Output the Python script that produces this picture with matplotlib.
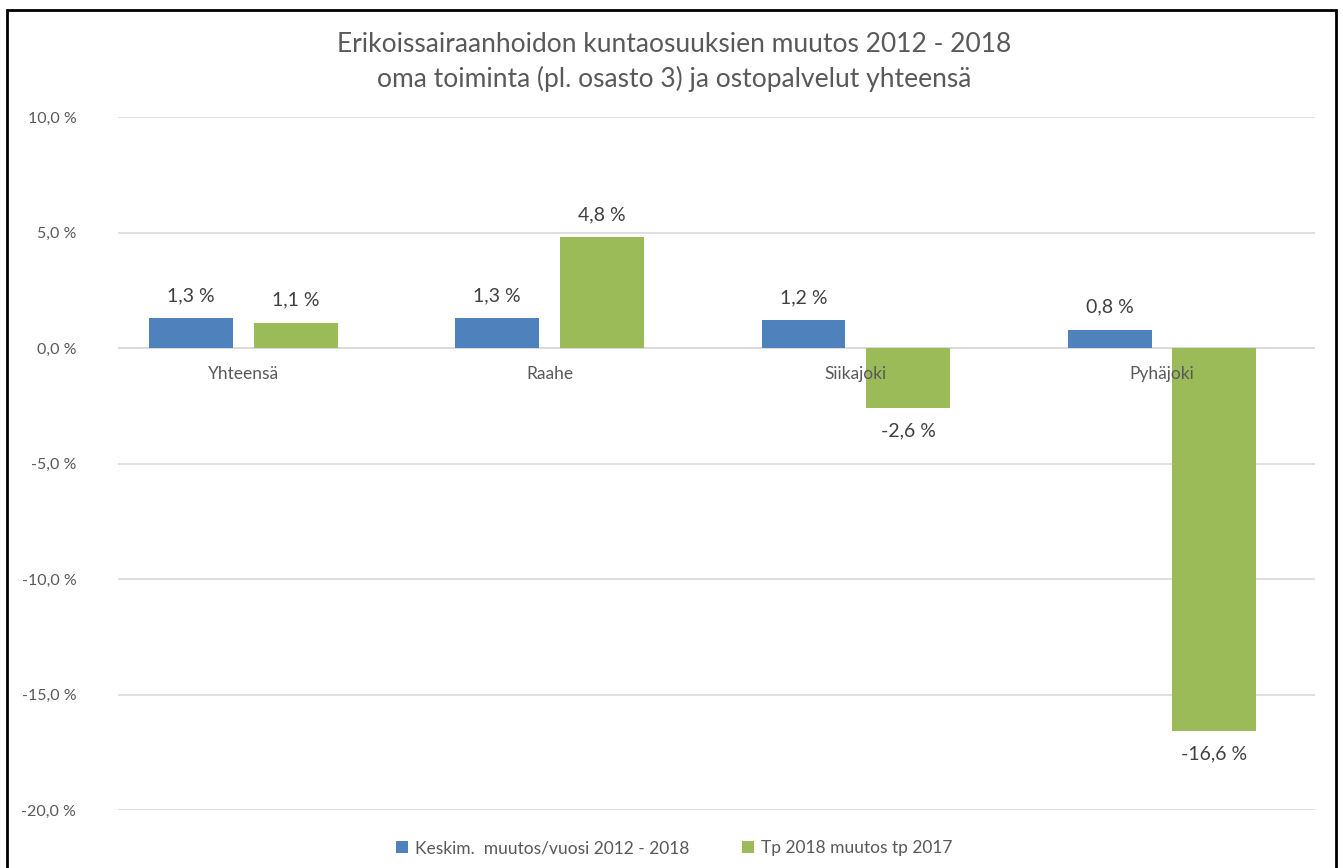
import matplotlib.pyplot as plt
import numpy as np
from matplotlib.patches import Rectangle

plt.rcParams['font.family'] = ['Lato', 'DejaVu Sans']

categories = ["Yhteensä", "Raahe", "Siikajoki", "Pyhäjoki"]
avg_change = [1.3, 1.3, 1.2, 0.8]
change_2018 = [1.1, 4.8, -2.6, -16.6]
series_names = ["Keskim.  muutos/vuosi 2012 - 2018", "Tp 2018 muutos tp 2017"]
yticks = [10, 5, 0, -5, -10, -15, -20]

def pct(v):
    return ("%.1f %%" % v).replace(".", ",")

fig = plt.figure(figsize=(13.43, 8.68), dpi=100)
ax = fig.add_axes([118 / 1343, 1 - 810 / 868, (1315 - 118) / 1343, (810 - 117) / 868])

x = np.arange(len(categories))
w = 0.274
off = 0.171
b1 = ax.bar(x - off, avg_change, w, color="#4f81bd", label=series_names[0], zorder=2)
b2 = ax.bar(x + off, change_2018, w, color="#9bbb59", label=series_names[1], zorder=2)

for bars, vals in ((b1, avg_change), (b2, change_2018)):
    for rect, v in zip(bars, vals):
        dy = 10 if v >= 0 else -10
        ax.annotate(pct(v), (rect.get_x() + rect.get_width() / 2, v),
                    xytext=(0, dy), textcoords="offset points",
                    ha="center", va="bottom" if v >= 0 else "top",
                    fontsize=14, color="#404040")

for i, c in enumerate(categories):
    ax.annotate(c, (i, 0), xytext=(0, -13), textcoords="offset points",
                ha="center", va="top", fontsize=12.5, color="#595959", zorder=5)

ax.set_xlim(-0.41, len(categories) - 0.5)
ax.set_ylim(-20, 10)
ax.set_yticks(yticks)
ax.set_yticklabels([pct(v) for v in yticks], fontsize=11.5, color="#595959")
ax.set_xticks([])
ax.tick_params(axis="y", length=0, pad=30)
ax.grid(axis="y", color="#d9d9d9", linewidth=1.2, zorder=0)
ax.axhline(0, color="#d9d9d9", linewidth=1.2, zorder=1)
for s in ax.spines.values():
    s.set_visible(False)

fig.text(0.502, 1 - 45 / 868, "Erikoissairaanhoidon kuntaosuuksien muutos 2012 - 2018",
         ha="center", va="center", fontsize=19, color="#595959")
fig.text(0.502, 1 - 79 / 868, "oma toiminta (pl. osasto 3) ja ostopalvelut yhteensä",
         ha="center", va="center", fontsize=19, color="#595959")

fig.legend(handles=[b1, b2], loc="center", bbox_to_anchor=(0.502, 1 - 848 / 868),
           ncol=2, frameon=False, fontsize=12.5, handlelength=0.7, handleheight=0.7,
           handletextpad=0.4, columnspacing=3, labelcolor="#595959")

fig.patches.append(Rectangle((7 / 1343, -0.02), (1336 - 7) / 1343, 1 - 10 / 868 + 0.02,
                             transform=fig.transFigure, fill=False,
                             edgecolor="black", linewidth=2))

fig.savefig("out.png", dpi=100)
